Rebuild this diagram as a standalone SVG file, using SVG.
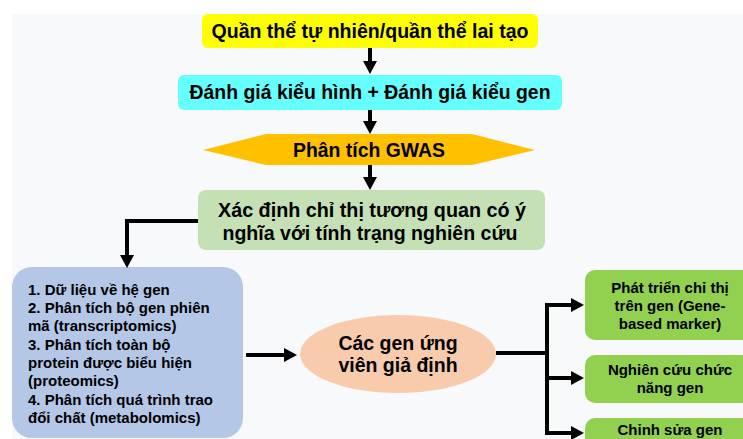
<svg xmlns="http://www.w3.org/2000/svg" width="743" height="439" viewBox="0 0 743 439">
<style>
text{font-family:"Liberation Sans",Arial,sans-serif;font-weight:bold;fill:#000}
.big{font-size:19.5px}
.sm{font-size:15px}
.c{text-anchor:middle}
.conn{stroke:#000;stroke-width:4;fill:none}
</style>
<defs>
<marker id="ah" markerUnits="userSpaceOnUse" markerWidth="13" markerHeight="14" viewBox="0 0 13 14" refX="0" refY="7" orient="auto">
<path d="M0,0 L13,7 L0,14 z" fill="#000"/>
</marker>
</defs>
<rect x="12" y="14" width="731" height="425" fill="#f8f9fb"/>
<g id="n1">
<rect x="202" y="14" width="336" height="34" rx="6" fill="#ffff00"/>
<text class="big c" x="370" y="38" textLength="317" lengthAdjust="spacingAndGlyphs">Quần thể tự nhiên/quần thể lai tạo</text>
</g>
<g id="n2">
<rect x="178" y="75" width="384" height="35" rx="6" fill="#66ffff"/>
<text class="big c" x="370" y="99" textLength="361" lengthAdjust="spacingAndGlyphs">Đánh giá kiểu hình + Đánh giá kiểu gen</text>
</g>
<g id="n3">
<polygon points="203,150 266,134 472,134 535,150 472,165 266,165" fill="#ffc000"/>
<text class="big c" x="369" y="157" textLength="152" lengthAdjust="spacingAndGlyphs">Phân tích GWAS</text>
</g>
<g id="n4">
<rect x="198" y="190" width="347" height="60" rx="8" fill="#c5e0b4"/>
<text class="big c" x="372" y="217" textLength="308" lengthAdjust="spacingAndGlyphs">Xác định chỉ thị tương quan có ý</text>
<text class="big c" x="370" y="240" textLength="295" lengthAdjust="spacingAndGlyphs">nghĩa với tính trạng nghiên cứu</text>
</g>
<g id="n5">
<rect x="12" y="267" width="231" height="171" rx="20" fill="#b4c7e7"/>
<text class="sm" x="28" y="295">1. Dữ liệu về hệ gen</text>
<text class="sm" x="28" y="313">2. Phân tích bộ gen phiên</text>
<text class="sm" x="28" y="331">mã (transcriptomics)</text>
<text class="sm" x="28" y="350">3. Phân tích toàn bộ</text>
<text class="sm" x="28" y="368">protein được biểu hiện</text>
<text class="sm" x="28" y="386">(proteomics)</text>
<text class="sm" x="28" y="405">4. Phân tích quá trình trao</text>
<text class="sm" x="28" y="423">đổi chất (metabolomics)</text>
</g>
<g id="n6">
<ellipse cx="398" cy="354" rx="98" ry="39" fill="#f8cbad"/>
<text class="big c" x="398" y="350">Các gen ứng</text>
<text class="big c" x="398" y="372">viên giả định</text>
</g>
<g id="n7">
<rect x="585" y="270" width="170" height="70" rx="10" fill="#92d050"/>
<text class="sm c" x="670" y="293">Phát triển chỉ thị</text>
<text class="sm c" x="670" y="311">trên gen (Gene-</text>
<text class="sm c" x="670" y="329">based marker)</text>
</g>
<g id="n8">
<rect x="585" y="355" width="170" height="48" rx="10" fill="#92d050"/>
<text class="sm c" x="670" y="375">Nghiên cứu chức</text>
<text class="sm c" x="670" y="393">năng gen</text>
</g>
<g id="n9">
<rect x="585" y="418" width="170" height="40" rx="10" fill="#92d050"/>
<text class="sm c" x="670" y="435">Chỉnh sửa gen</text>
</g>
<g id="connectors">
<line class="conn" x1="370" y1="48" x2="370" y2="61" marker-end="url(#ah)"/>
<line class="conn" x1="370" y1="110" x2="370" y2="121" marker-end="url(#ah)"/>
<line class="conn" x1="370" y1="165" x2="370" y2="177" marker-end="url(#ah)"/>
<path class="conn" d="M198,221 H127 V255" marker-end="url(#ah)"/>
<line class="conn" x1="246" y1="355" x2="284" y2="355" marker-end="url(#ah)"/>
<path class="conn" d="M496,353 H547"/>
<path class="conn" d="M547,303 V435"/>
<line class="conn" x1="545" y1="305" x2="571" y2="305" marker-end="url(#ah)"/>
<line class="conn" x1="545" y1="378" x2="571" y2="378" marker-end="url(#ah)"/>
<line class="conn" x1="545" y1="433" x2="571" y2="433" marker-end="url(#ah)"/>
</g>
</svg>
